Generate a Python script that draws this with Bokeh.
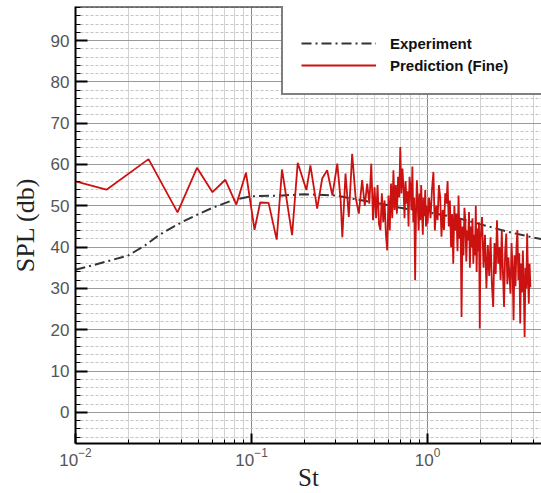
from bokeh.plotting import figure
from bokeh.models import (Legend, LegendItem, Span, FixedTicker,
                          SingleIntervalTicker, LogTickFormatter, Range1d)
from bokeh.embed import file_html
from bokeh.resources import INLINE

# ---------------- data ----------------
exp_st = [0.01, 0.015, 0.02, 0.025, 0.03, 0.04, 0.05, 0.06, 0.08, 0.1, 0.15,
          0.2, 0.3, 0.4, 0.5, 0.7, 1.0, 1.5, 2.0, 3.0, 4.0, 5.0]
exp_spl = [34.5, 36.5, 38.0, 40.5, 43.0, 46.0, 48.0, 49.5, 51.5, 52.3, 52.5,
           52.8, 52.5, 51.5, 50.8, 49.5, 48.5, 47.0, 45.5, 43.5, 42.3, 41.5]

pred_st_low = [0.010, 0.015, 0.026, 0.038, 0.049, 0.060, 0.071, 0.082, 0.093,
               0.104, 0.112, 0.125, 0.139, 0.149, 0.170, 0.183, 0.205, 0.216,
               0.236, 0.252, 0.269, 0.288, 0.307, 0.321, 0.328, 0.342, 0.357,
               0.373, 0.390, 0.407, 0.425, 0.440, 0.454, 0.467, 0.479, 0.490]
pred_spl_low = [55.9, 53.9, 61.3, 48.4, 59.2, 53.3, 56.3, 50.3, 58.0,
                44.2, 50.8, 50.7, 41.8, 58.8, 42.9, 60.4, 53.8, 59.8,
                49.3, 56.6, 58.6, 52.5, 60.2, 51.3, 42.4, 57.8, 47.3,
                62.6, 52.1, 48.1, 56.2, 50.0, 55.4, 50.5, 60.2, 46.5]

pred_st_mid = [0.50, 0.51, 0.52, 0.53, 0.54, 0.55, 0.56, 0.57, 0.58, 0.59,
               0.60, 0.61, 0.62, 0.63, 0.64, 0.65, 0.66, 0.67, 0.68, 0.69,
               0.70, 0.71, 0.72, 0.73, 0.74, 0.75, 0.76, 0.77, 0.78, 0.79,
               0.80, 0.81, 0.82, 0.83, 0.84, 0.85, 0.86, 0.87, 0.88, 0.89,
               0.90, 0.91, 0.92, 0.93, 0.94, 0.95, 0.96, 0.97, 0.98, 0.99, 1.00]
pred_spl_mid = [54.5, 47.0, 55.0, 45.5, 44.1, 53.0, 46.0, 51.3, 43.0, 39.2,
                52.5, 44.0, 55.4, 47.0, 58.6, 49.0, 55.0, 48.1, 57.0, 52.0,
                64.2, 53.0, 59.0, 54.5, 47.0, 56.0, 50.5, 53.5, 45.0, 57.0,
                54.5, 49.0, 59.5, 46.0, 52.0, 32.0, 48.0, 56.2, 50.0, 44.0,
                53.0, 46.5, 55.0, 49.0, 43.0, 52.0, 47.5, 53.8, 45.0, 50.0, 45.7]

pred_st_hi1 = [1.02, 1.04, 1.06, 1.08, 1.10, 1.12, 1.14, 1.16, 1.18, 1.20,
               1.22, 1.24, 1.26, 1.28, 1.30, 1.32, 1.34, 1.36, 1.38, 1.40,
               1.42, 1.44, 1.46, 1.48, 1.50, 1.52, 1.54, 1.56, 1.58, 1.60,
               1.62, 1.64, 1.66, 1.68, 1.70, 1.72, 1.74, 1.76, 1.78, 1.80,
               1.82, 1.84, 1.86, 1.88, 1.90, 1.92, 1.94, 1.96, 1.98, 2.00]
pred_spl_hi1 = [52.0, 47.0, 54.0, 58.2, 44.0, 50.0, 46.5, 55.0, 52.1, 42.5,
                49.0, 44.1, 53.0, 50.5, 56.0, 45.0, 51.3, 40.0, 48.0, 36.0,
                50.0, 44.0, 48.1, 39.0, 52.5, 42.0, 47.0, 23.1, 45.0, 38.0,
                49.5, 46.5, 36.5, 44.0, 41.6, 48.5, 35.0, 45.0, 40.0, 47.0,
                36.0, 43.0, 38.0, 50.0, 34.0, 44.5, 39.0, 46.0, 20.3, 42.0]

pred_st_hi2 = [2.04, 2.08, 2.12, 2.16, 2.20, 2.24, 2.28, 2.32, 2.36, 2.40,
               2.44, 2.48, 2.52, 2.56, 2.60, 2.64, 2.68, 2.72, 2.76, 2.80,
               2.84, 2.88, 2.92, 2.96, 3.00, 3.04, 3.08, 3.12, 3.16, 3.20,
               3.24, 3.28, 3.32, 3.36, 3.40, 3.44, 3.48, 3.52, 3.56, 3.60,
               3.64, 3.68, 3.72, 3.76, 3.80, 3.84]
pred_spl_hi2 = [47.3, 35.0, 43.0, 30.0, 40.5, 33.0, 42.4, 31.0, 25.5, 41.0,
                33.5, 46.5, 36.0, 40.0, 32.0, 44.0, 34.0, 25.5, 39.0, 43.3,
                31.0, 37.5, 33.0, 28.7, 41.0, 35.0, 22.3, 38.0, 30.5, 40.0,
                44.1, 32.0, 38.5, 21.5, 36.0, 29.0, 39.2, 31.0, 18.2, 35.0,
                30.0, 43.3, 33.0, 26.3, 36.0, 30.3]

pred_st = pred_st_low + pred_st_mid + pred_st_hi1 + pred_st_hi2
pred_spl = pred_spl_low + pred_spl_mid + pred_spl_hi1 + pred_spl_hi2

x_major = [0.01, 0.1, 1.0]
x_minor = [m * 10.0 ** e for e in (-2, -1, 0) for m in range(2, 10)]

# ---------------- figure ----------------
p = figure(width=541, height=493, x_axis_type="log",
           x_range=Range1d(0.01, 4.44), y_range=Range1d(-7.55, 98.25),
           output_backend="svg", toolbar_location=None, title=None,
           min_border_left=75, min_border_right=0, min_border_top=6,
           min_border_bottom=50)
p.outline_line_color = None
p.background_fill_color = "white"
p.border_fill_color = "white"

# grids
p.xgrid.grid_line_color = "#8a8a8a"
p.xgrid.grid_line_width = 1
p.xgrid.minor_grid_line_color = "#d2d2d2"
p.ygrid.grid_line_color = "#9a9a9a"
p.ygrid.grid_line_width = 1.2
p.ygrid.minor_grid_line_color = "#c4c4c4"
p.ygrid.minor_grid_line_dash = "3 2"

# axes
xa = p.xaxis[0]
xa.ticker = FixedTicker(ticks=x_major, minor_ticks=x_minor)
xa.formatter = LogTickFormatter()
ya = p.yaxis[0]
ya.ticker = SingleIntervalTicker(interval=10, num_minor_ticks=5)

for ax in (xa, ya):
    ax.axis_line_color = "black"
    ax.axis_line_width = 2
    ax.major_tick_line_color = "black"
    ax.major_tick_line_width = 2
    ax.minor_tick_line_color = "black"
    ax.minor_tick_line_width = 1
    ax.major_tick_out = 0
    ax.minor_tick_out = 0
    ax.major_label_text_font = "Liberation Sans"
    ax.major_label_text_font_size = "17px"
    ax.major_label_text_color = "#555555"
    ax.major_label_standoff = 6

xa.major_tick_in = 10
xa.minor_tick_in = 4
ya.major_tick_in = 12
ya.minor_tick_in = 5
xa.major_label_standoff = 4

ya.axis_label = "SPL (db)"
ya.axis_label_text_font = "Liberation Serif"
ya.axis_label_text_font_style = "normal"
ya.axis_label_text_font_size = "26px"
ya.axis_label_text_color = "#222222"
ya.axis_label_standoff = 8

xa.axis_label = "St"
xa.axis_label_text_font = "Liberation Serif"
xa.axis_label_text_font_style = "normal"
xa.axis_label_text_font_size = "25px"
xa.axis_label_text_color = "#222222"
xa.axis_label_text_line_height = 0.9
xa.axis_label_standoff = -5

# top border
p.add_layout(Span(location=98.25, dimension="width", line_color="black",
                  line_width=2))

# data
r_exp = p.line(exp_st, exp_spl, line_color="#333333", line_width=2,
               line_dash="10 4 2 4")
r_pred = p.line(pred_st, pred_spl, line_color="#cc1111", line_width=1.8)

legend = Legend(items=[LegendItem(label="Experiment", renderers=[r_exp]),
                       LegendItem(label="Prediction (Fine)", renderers=[r_pred])],
                location=(206, 348))
legend.title = " "
legend.title_text_font_size = "8px"
legend.title_standoff = 5
legend.padding = 18
legend.margin = 0
legend.spacing = 2
legend.glyph_width = 75
legend.glyph_height = 20
legend.label_height = 20
legend.label_width = 150
legend.label_standoff = 14
legend.label_text_font = "Liberation Sans"
legend.label_text_font_style = "bold"
legend.label_text_font_size = "15px"
legend.label_text_color = "#111111"
legend.border_line_color = "black"
legend.border_line_width = 2
legend.background_fill_color = "white"
legend.background_fill_alpha = 1.0
p.add_layout(legend)

open("out.html", "w").write(file_html(p, INLINE))
